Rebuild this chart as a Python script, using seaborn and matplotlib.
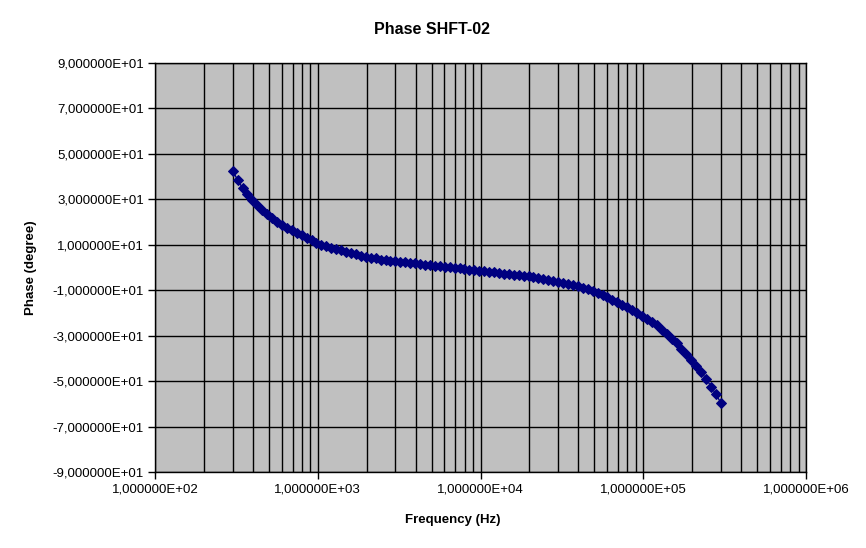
import numpy as np
import matplotlib
matplotlib.use("Agg")
import matplotlib.pyplot as plt
import matplotlib.ticker as mticker
import seaborn as sns

# frequency sweep (Hz), 33 points per decade from 300 Hz to 300 kHz
freq = [
    300, 322, 345, 370, 397, 425, 456, 489, 524, 562, 603, 646, 693, 743, 797, 854, 916,
    982, 1053, 1129, 1211, 1299, 1392, 1493, 1601, 1717, 1841, 1974, 2116, 2269, 2433,
    2609, 2798,
    3000, 3217, 3449, 3698, 3966, 4252, 4560, 4889, 5243, 5621, 6028, 6463, 6930, 7431,
    7968, 8544, 9162, 9824, 10534, 11295, 12111, 12986, 13925, 14931, 16010, 17167,
    18408, 19738, 21164, 22694, 24334, 26092, 27978,
    30000, 32166, 34491, 36984, 39657, 42525, 45597, 48894, 52425, 56214, 60276, 64632,
    69303, 74313, 79683, 85440, 91617, 98235, 105336, 112947, 121110, 129864, 139248,
    149310, 160101, 171672, 184077, 197379, 211644, 226938, 243339, 260925, 279780,
    300000,
]

# phase (degree)
phase = [
    42.6, 38.5, 35.0, 32.3, 29.6, 27.3, 25.3, 23.5, 21.8, 20.2, 18.8, 17.5, 16.3, 15.2,
    14.3, 13.2, 12.3, 10.9, 10.0, 9.3, 8.7, 8.1, 7.5, 6.8, 6.3, 5.8, 5.2, 4.8, 4.4, 4.0,
    3.5, 3.3, 3.0,
    2.7, 2.5, 2.3, 2.1, 1.8, 1.6, 1.3, 1.0, 0.8, 0.6, 0.3, 0.1, -0.2, -0.4, -0.7, -0.9,
    -1.2, -1.5, -1.7, -2.0, -2.2, -2.5, -2.7, -2.9, -3.2, -3.4, -3.7, -3.9, -4.2, -4.5,
    -4.9, -5.3, -5.8,
    -6.4, -6.9, -7.4, -7.8, -8.3, -8.9, -9.6, -10.4, -11.3, -12.2, -13.1, -14.1, -15.2,
    -16.3, -17.5, -18.7, -20.0, -21.4, -22.7, -23.8, -25.4, -27.6, -29.4, -31.3, -33.4,
    -35.7, -37.9, -40.8, -43.4, -46.1, -48.9, -52.4, -55.8,
    -59.6,
]

y_ticks = [-90, -70, -50, -30, -10, 10, 30, 50, 70, 90]
x_ticks = [1e2, 1e3, 1e4, 1e5, 1e6]

plt.rcParams['font.family'] = ['Liberation Sans', 'DejaVu Sans']

fig = plt.figure(figsize=(8.66, 5.48), dpi=100)
ax = fig.add_axes([155 / 866, 1 - 472 / 548, (806 - 155) / 866, (472 - 63) / 548])
ax.set_facecolor('#C0C0C0')

sns.lineplot(x=freq, y=phase, ax=ax, color='#000080', linewidth=1.0,
             marker='D', markersize=5, markeredgecolor='#000080', zorder=3)

ax.set_xscale('log')
ax.set_xlim(1e2, 1e6)
ax.set_ylim(-90, 90)
ax.set_xticks(x_ticks)
ax.set_yticks(y_ticks)
ax.xaxis.set_minor_locator(mticker.LogLocator(base=10, subs=np.arange(2, 10), numticks=20))
ax.xaxis.set_minor_formatter(mticker.NullFormatter())


def excel_fmt(v, pos):
    return f"{v:.6E}".replace('.', ',')


ax.xaxis.set_major_formatter(mticker.FuncFormatter(excel_fmt))
ax.yaxis.set_major_formatter(mticker.FuncFormatter(excel_fmt))

ax.grid(which='major', color='black', linewidth=1.0)
ax.grid(which='minor', axis='x', color='black', linewidth=1.0)
ax.set_axisbelow(True)
for s in ax.spines.values():
    s.set_color('black')
    s.set_linewidth(1.0)

ax.tick_params(axis='both', which='major', direction='out', length=5, width=1,
               labelsize=9.5, color='black', pad=3)
ax.tick_params(axis='x', which='minor', length=0)

fig.text(432 / 866, 1 - 30 / 548, 'Phase SHFT-02', ha='center', va='center',
         fontsize=11.5, fontweight='bold')
fig.text(453 / 866, 1 - 520 / 548, 'Frequency (Hz)', ha='center', va='center',
         fontsize=9.5, fontweight='bold')
fig.text(31 / 866, 1 - 268 / 548, 'Phase (degree)', ha='center', va='center',
         rotation=90, fontsize=9.5, fontweight='bold')

fig.savefig('out.png', dpi=100, facecolor='white')
